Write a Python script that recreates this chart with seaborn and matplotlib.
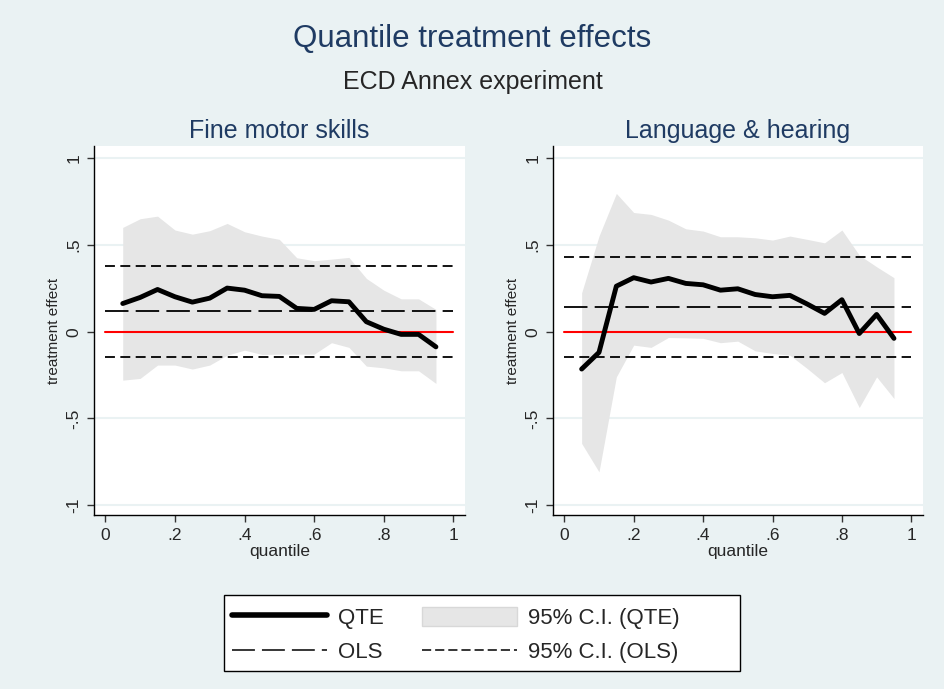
import numpy as np
import pandas as pd
import matplotlib
matplotlib.use('Agg')
import matplotlib.pyplot as plt
from matplotlib.lines import Line2D
from matplotlib.patches import Patch, Rectangle
import seaborn as sns

# quantiles and estimates
quantiles = [0.05, 0.10, 0.15, 0.20, 0.25, 0.30, 0.35, 0.40, 0.45, 0.50,
             0.55, 0.60, 0.65, 0.70, 0.75, 0.80, 0.85, 0.90, 0.95]

fine_qte = [0.163, 0.198, 0.244, 0.202, 0.171, 0.194, 0.252, 0.240, 0.208, 0.204,
            0.135, 0.129, 0.179, 0.173, 0.058, 0.015, -0.015, -0.015, -0.087]
fine_hi = [0.602, 0.652, 0.667, 0.587, 0.563, 0.583, 0.625, 0.577, 0.552, 0.533,
           0.427, 0.410, 0.419, 0.429, 0.308, 0.240, 0.190, 0.190, 0.129]
fine_lo = [-0.279, -0.269, -0.192, -0.192, -0.215, -0.192, -0.135, -0.106, -0.131, -0.129,
           -0.129, -0.129, -0.063, -0.090, -0.198, -0.208, -0.225, -0.225, -0.298]
fine_ols = [0.117, 0.379, -0.148]   # estimate, upper, lower

lang_qte = [-0.215, -0.119, 0.263, 0.312, 0.287, 0.308, 0.279, 0.271, 0.240, 0.248,
            0.215, 0.202, 0.210, 0.160, 0.106, 0.185, -0.010, 0.100, -0.038]
lang_hi = [0.225, 0.552, 0.798, 0.688, 0.677, 0.644, 0.594, 0.581, 0.548, 0.548,
           0.542, 0.529, 0.552, 0.533, 0.513, 0.587, 0.442, 0.375, 0.312]
lang_lo = [-0.644, -0.808, -0.260, -0.077, -0.090, -0.033, -0.035, -0.038, -0.063, -0.054,
           -0.110, -0.125, -0.135, -0.212, -0.294, -0.235, -0.437, -0.260, -0.385]
lang_ols = [0.142, 0.429, -0.148]

panels = ["Fine motor skills", "Language & hearing"]

bg = "#EAF2F3"
navy = "#1F3B63"
ci_col = "#E6E6E6"

sns.set_style("white")
plt.rcParams['font.family'] = ['Liberation Sans', 'DejaVu Sans']

fig = plt.figure(figsize=(9.45, 6.89), dpi=100, facecolor=bg)
ax1 = fig.add_axes([0.0995, 0.2525, 0.3926, 0.5356])
ax2 = fig.add_axes([0.5852, 0.2525, 0.3915, 0.5356])

data = [(fine_qte, fine_hi, fine_lo, fine_ols), (lang_qte, lang_hi, lang_lo, lang_ols)]

for ax, title, (qte, hi, lo, ols) in zip([ax1, ax2], panels, data):
    df = pd.DataFrame({"quantile": quantiles, "qte": qte, "hi": hi, "lo": lo})
    ax.set_facecolor("white")
    for yv in [-1, -0.5, 0.5, 1]:
        ax.axhline(yv, color=bg, lw=1.5, zorder=0)
    ax.fill_between(df["quantile"], df["lo"], df["hi"], color=ci_col, lw=0, zorder=1)
    ax.plot([0, 1], [ols[1], ols[1]], color="black", lw=1.3, dashes=(5.5, 3), zorder=2)
    ax.plot([0, 1], [ols[2], ols[2]], color="black", lw=1.3, dashes=(5.5, 3), zorder=2)
    ax.plot([0, 1], [ols[0], ols[0]], color="black", lw=1.3, dashes=(13, 4), zorder=2)
    ax.plot([0, 1], [0, 0], color="red", lw=1.5, zorder=3)
    sns.lineplot(data=df, x="quantile", y="qte", ax=ax, color="black", lw=3.5, zorder=4)

    ax.set_xlim(-0.0325, 1.0336)
    ax.set_ylim(-1.057, 1.0716)
    ax.set_xticks([0, 0.2, 0.4, 0.6, 0.8, 1])
    ax.set_xticklabels(["0", ".2", ".4", ".6", ".8", "1"])
    ax.set_yticks([-1, -0.5, 0, 0.5, 1])
    ax.set_yticklabels(["-1", "-.5", "0", ".5", "1"], rotation=90, va="center")
    ax.tick_params(axis="both", direction="out", length=5, width=1, color="#333333",
                   labelsize=12.5, pad=4, left=True, bottom=True)
    for s in ["top", "right"]:
        ax.spines[s].set_visible(False)
    for s in ["left", "bottom"]:
        ax.spines[s].set_color("black")
        ax.spines[s].set_linewidth(1)
    ax.set_xlabel("quantile", fontsize=12.5, labelpad=1)
    ax.set_ylabel("treatment effect", fontsize=11, labelpad=4)
    ax.set_title(title, fontsize=18, color=navy, pad=6)

fig.text(0.5, 0.944, "Quantile treatment effects", ha="center", va="center",
         fontsize=22.5, color=navy)
fig.text(0.5, 0.881, "ECD Annex experiment", ha="center", va="center", fontsize=18)

# legend box drawn separately so it keeps the wide right margin of the original
fig.patches.append(Rectangle((0.2370, 0.0261), 0.546, 0.1103, transform=fig.transFigure,
                             facecolor="white", edgecolor="black", lw=1, zorder=1))

handles = [Line2D([], [], color="black", lw=4),
           Line2D([], [], color="black", lw=1.1, dashes=(15, 4.6)),
           Patch(facecolor=ci_col, edgecolor="#D8D8D8"),
           Line2D([], [], color="black", lw=1.1, dashes=(6, 2.6))]
labels = ["QTE", "OLS", "95% C.I. (QTE)", "95% C.I. (OLS)"]
leg = fig.legend(handles, labels, loc="center left", bbox_to_anchor=(0.2455, 0.0784), ncol=2,
                 fontsize=16, handlelength=4.28, handleheight=1.0, handletextpad=0.5,
                 columnspacing=1.7, labelspacing=0.53, borderpad=0, borderaxespad=0,
                 frameon=False)
leg.set_zorder(2)

fig.savefig("out.png", dpi=100, facecolor=bg)
